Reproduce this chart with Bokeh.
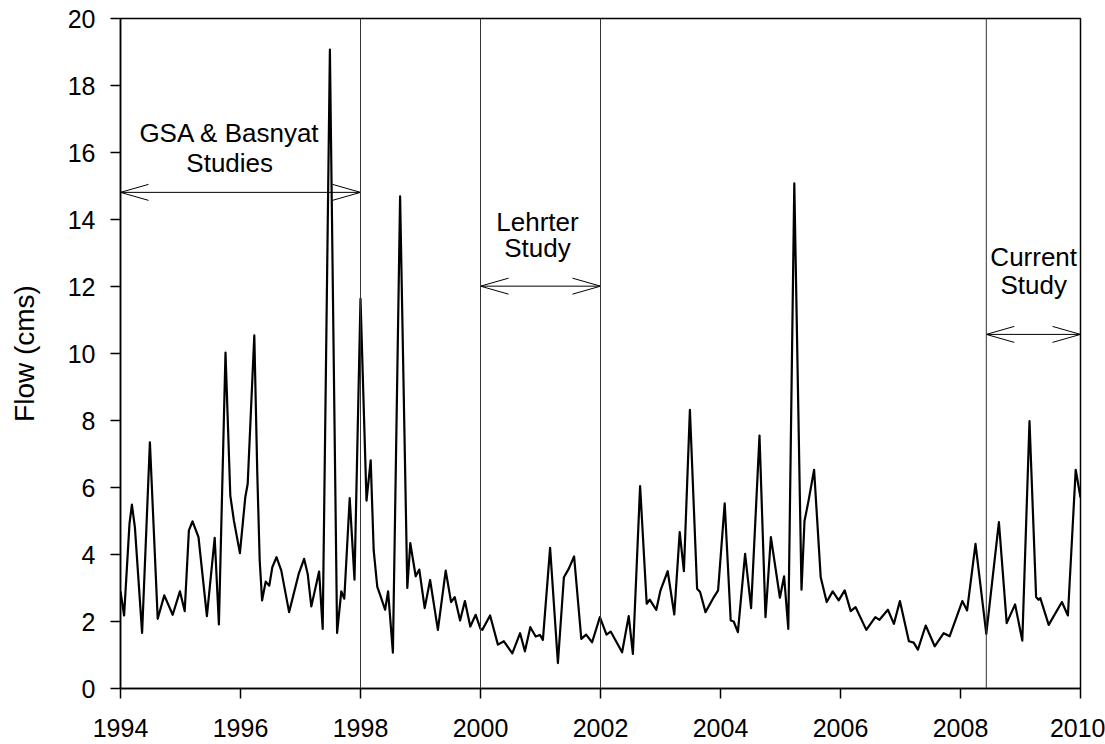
from bokeh.plotting import figure
from bokeh.models import Range1d, FixedTicker, Span
from bokeh.core.properties import value
from bokeh.embed import file_html
from bokeh.resources import INLINE

# Daily-flow record (decimal year, flow in cms), read at turning points
year = [
    1994.00, 1994.06, 1994.15, 1994.19, 1994.24, 1994.36, 1994.49, 1994.62, 1994.73, 1994.87,
    1994.99, 1995.07, 1995.14, 1995.20, 1995.30, 1995.44, 1995.57, 1995.64, 1995.75, 1995.83,
    1995.89, 1995.99, 1996.08, 1996.12, 1996.23, 1996.28, 1996.32, 1996.36, 1996.42, 1996.48,
    1996.53, 1996.60, 1996.68, 1996.81, 1996.97, 1997.06, 1997.12, 1997.18, 1997.31, 1997.37,
    1997.49, 1997.61, 1997.68, 1997.73, 1997.82, 1997.90, 1998.00, 1998.10, 1998.17, 1998.22,
    1998.28, 1998.33, 1998.41, 1998.46, 1998.54, 1998.66, 1998.78, 1998.83, 1998.92, 1998.98,
    1999.07, 1999.16, 1999.29, 1999.42, 1999.51, 1999.57, 1999.66, 1999.74, 1999.83, 1999.92,
    2000.00, 2000.03, 2000.16, 2000.29, 2000.39, 2000.53, 2000.66, 2000.74, 2000.83, 2000.92,
    2000.99, 2001.04, 2001.16, 2001.29, 2001.39, 2001.47, 2001.56, 2001.68, 2001.76, 2001.86,
    2001.99, 2002.10, 2002.17, 2002.36, 2002.47, 2002.54, 2002.66, 2002.77, 2002.82, 2002.93,
    2003.00, 2003.12, 2003.23, 2003.32, 2003.39, 2003.49, 2003.61, 2003.66, 2003.75, 2003.89,
    2003.96, 2004.07, 2004.17, 2004.22, 2004.29, 2004.41, 2004.51, 2004.65, 2004.75, 2004.84,
    2004.99, 2005.06, 2005.13, 2005.23, 2005.35, 2005.40, 2005.47, 2005.56, 2005.67, 2005.77,
    2005.87, 2005.97, 2006.07, 2006.17, 2006.25, 2006.43, 2006.58, 2006.65, 2006.79, 2006.89,
    2006.99, 2007.14, 2007.22, 2007.29, 2007.42, 2007.57, 2007.72, 2007.82, 2008.03, 2008.11,
    2008.25, 2008.43, 2008.64, 2008.77, 2008.91, 2009.03, 2009.15, 2009.26, 2009.30, 2009.33,
    2009.47, 2009.69, 2009.79, 2009.92, 2010.00,
]
flow = [
    2.90, 2.18, 4.92, 5.49, 4.81, 1.66, 7.35, 2.08, 2.78, 2.20,
    2.90, 2.31, 4.72, 4.99, 4.52, 2.16, 4.50, 1.91, 10.03, 5.76,
    5.01, 4.04, 5.71, 6.11, 10.54, 6.40, 3.82, 2.63, 3.19, 3.07,
    3.62, 3.92, 3.52, 2.28, 3.42, 3.87, 3.42, 2.45, 3.49, 1.78,
    19.07, 1.66, 2.90, 2.68, 5.68, 3.25, 11.63, 5.61, 6.81, 4.12,
    3.03, 2.78, 2.35, 2.90, 1.07, 14.69, 3.00, 4.34, 3.35, 3.55,
    2.40, 3.24, 1.75, 3.52, 2.58, 2.73, 2.03, 2.61, 1.85, 2.20,
    1.78, 1.75, 2.18, 1.31, 1.41, 1.05, 1.65, 1.11, 1.83, 1.55,
    1.60, 1.45, 4.20, 0.76, 3.32, 3.57, 3.94, 1.48, 1.61, 1.38,
    2.13, 1.61, 1.70, 1.08, 2.16, 1.03, 6.04, 2.53, 2.65, 2.35,
    2.93, 3.50, 2.21, 4.67, 3.50, 8.32, 2.98, 2.88, 2.28, 2.73,
    2.93, 5.53, 2.03, 2.00, 1.68, 4.02, 2.40, 7.55, 2.13, 4.52,
    2.71, 3.35, 1.78, 15.08, 2.95, 5.00, 5.63, 6.53, 3.32, 2.58,
    2.90, 2.63, 2.93, 2.31, 2.43, 1.75, 2.13, 2.05, 2.35, 1.93,
    2.61, 1.41, 1.37, 1.16, 1.88, 1.26, 1.65, 1.56, 2.61, 2.33,
    4.32, 1.63, 4.97, 1.95, 2.51, 1.43, 7.98, 2.73, 2.65, 2.70,
    1.90, 2.58, 2.18, 6.53, 5.70,
]

# Study period boundaries and their labels
study_bounds = [1998.0, 2000.0, 2002.0, 2008.43]
study_start = [1994.0, 2000.0, 2008.43]
study_end = [1998.0, 2002.0, 2010.0]
arrow_level = [14.81, 12.01, 10.57]
label_x = [1995.82, 2000.95, 2009.22]
label_line1 = ["GSA & Basnyat", "Lehrter", "Current"]
label_line1_y = [16.58, 13.93, 12.87]
label_line2 = ["Studies", "Study", "Study"]
label_line2_y = [15.69, 13.16, 12.03]

x_ticks = list(range(1994, 2011, 2))
y_ticks = list(range(0, 21, 2))

FONT = "Liberation Sans"
X0, X1, Y0, Y1 = 1994, 2010, 0, 20
FRAME_W, FRAME_H = 960, 670

p = figure(
    width=1105, height=744,
    output_backend="svg", toolbar_location=None,
    x_range=Range1d(X0, X1), y_range=Range1d(Y0, Y1),
    min_border_left=120, min_border_right=25,
    min_border_top=18, min_border_bottom=56,
)
p.background_fill_color = "white"
p.border_fill_color = "white"
p.grid.visible = False
p.outline_line_color = "black"
p.outline_line_width = 1.5

for ax in (p.xaxis[0], p.yaxis[0]):
    ax.axis_line_width = 1.5
    ax.axis_line_color = "black"
    ax.major_tick_line_width = 1.5
    ax.major_tick_line_color = "black"
    ax.major_tick_out = 10
    ax.major_tick_in = 0
    ax.minor_tick_line_color = None
    ax.major_label_text_font = FONT
    ax.major_label_text_font_size = "25px"
    ax.major_label_text_color = "black"

p.xaxis.ticker = FixedTicker(ticks=x_ticks)
p.yaxis.ticker = FixedTicker(ticks=y_ticks)
p.xaxis.major_label_standoff = 20
p.yaxis.major_label_standoff = 15

p.yaxis.axis_label = "Flow (cms)"
p.yaxis.axis_label_text_font = FONT
p.yaxis.axis_label_text_font_size = "28px"
p.yaxis.axis_label_text_font_style = "normal"
p.yaxis.axis_label_text_color = "black"
p.yaxis.axis_label_standoff = 25

# Boundaries between study periods
for b in study_bounds:
    p.add_layout(Span(location=b, dimension="height",
                      line_color="#333333", line_width=1))

# Flow record
p.line(year, flow, line_color="black", line_width=2.2, line_join="round")

# Double-headed arrows spanning each study period (open, narrow heads)
head_len = 28 * (X1 - X0) / FRAME_W     # 28 px along the shaft
head_half = 8 * (Y1 - Y0) / FRAME_H     # 8 px either side
p.segment(x0=study_start, y0=arrow_level, x1=study_end, y1=arrow_level,
          line_color="black", line_width=1)
for sgn in (1, -1):
    p.segment(x0=study_start, y0=arrow_level,
              x1=[s + head_len for s in study_start],
              y1=[a + sgn * head_half for a in arrow_level],
              line_color="black", line_width=1)
    p.segment(x0=study_end, y0=arrow_level,
              x1=[e - head_len for e in study_end],
              y1=[a + sgn * head_half for a in arrow_level],
              line_color="black", line_width=1)

# Study labels, two lines each
p.text(x=label_x, y=label_line1_y, text=label_line1,
       text_font=value(FONT), text_font_size="26px", text_color="black",
       text_align="center", text_baseline="alphabetic")
p.text(x=label_x, y=label_line2_y, text=label_line2,
       text_font=value(FONT), text_font_size="26px", text_color="black",
       text_align="center", text_baseline="alphabetic")

open("out.html", "w").write(file_html(p, INLINE))
